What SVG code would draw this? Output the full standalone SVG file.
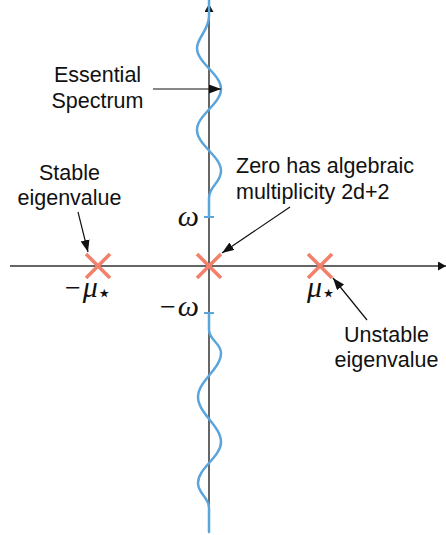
<svg xmlns="http://www.w3.org/2000/svg" width="446" height="535" viewBox="0 0 446 535">
<style>
.lbl{font-family:"Liberation Sans",Arial,sans-serif;font-size:21.5px;fill:#111}
.math{font-family:"Liberation Serif","Times New Roman",serif;font-style:italic;font-size:30px;fill:#111}
.up{font-style:normal;font-size:28px}
.star{font-family:"DejaVu Sans",sans-serif;font-style:normal;font-size:24px}
.axis{stroke:#333;stroke-width:1.5;fill:none}
.wave{stroke:#5AA5DC;stroke-width:2.5;fill:none;stroke-linecap:round}
.tick{stroke:#5AA5DC;stroke-width:2;fill:none}
.cross{stroke:#F2806A;stroke-width:3.5;stroke-linecap:butt}
.arr{stroke:#111;stroke-width:1.2;fill:none}
</style>
<defs>
<marker id="ah" markerUnits="userSpaceOnUse" markerWidth="13" markerHeight="10" refX="12" refY="4.5" orient="auto">
<path d="M0,0 L12,4.5 L0,9 z" fill="#111"/>
</marker>
<marker id="axh" markerUnits="userSpaceOnUse" markerWidth="10" markerHeight="10" refX="8" refY="4.5" orient="auto">
<path d="M0,0 L8,4.5 L0,9 z" fill="#111"/>
</marker>
</defs>
<g id="axes">
<line class="axis" x1="10" y1="266" x2="446" y2="266" marker-end="url(#axh)"/>
<line class="axis" x1="209" y1="532" x2="209" y2="4" marker-end="url(#axh)"/>
</g>
<g id="essential-spectrum">
<path class="wave" d="M209,0 L209,16 C209,30 197,38 197,48 C197,63 221,74 221,89 C221,104 197,115 197,130 C197,145 221,156 221,171 C221,183 209,186 209,198 L209,217"/>
<path class="wave" d="M209,313 L209,330 C209,340 221,343 221,353 C221,369 198,381 198,397 C198,413 221,426 221,442 C221,457 198,468 198,483 C198,494 209,497 209,508 L209,532"/>
<line class="tick" x1="204" y1="217" x2="214" y2="217"/>
<line class="tick" x1="204" y1="313" x2="214" y2="313"/>
</g>
<g id="eigen-neg">
<line class="cross" x1="86" y1="254" x2="110" y2="278"/>
<line class="cross" x1="110" y1="254" x2="86" y2="278"/>
</g>
<g id="eigen-zero">
<line class="cross" x1="197" y1="254" x2="221" y2="278"/>
<line class="cross" x1="221" y1="254" x2="197" y2="278"/>
</g>
<g id="eigen-pos">
<line class="cross" x1="308" y1="254" x2="332" y2="278"/>
<line class="cross" x1="332" y1="254" x2="308" y2="278"/>
</g>
<g id="math-labels">
<text class="math" x="199" y="226" text-anchor="end">ω</text>
<text class="math" x="199" y="316" text-anchor="end"><tspan class="up">−</tspan><tspan dx="2">ω</tspan></text>
<text class="math" x="65" y="297"><tspan class="up">−</tspan><tspan dx="2">μ</tspan><tspan class="star" dx="-1" dy="4">⋆</tspan></text>
<text class="math" x="307" y="297">μ<tspan class="star" dx="-1" dy="4">⋆</tspan></text>
</g>
<g id="label-essential">
<text class="lbl" x="97.5" y="82" text-anchor="middle">Essential</text>
<text class="lbl" x="97.5" y="108" text-anchor="middle">Spectrum</text>
</g>
<g id="label-stable">
<text class="lbl" x="69.5" y="180" text-anchor="middle">Stable</text>
<text class="lbl" x="69.5" y="205" text-anchor="middle">eigenvalue</text>
</g>
<g id="label-zero">
<text class="lbl" x="236" y="173">Zero has algebraic</text>
<text class="lbl" x="236" y="199">multiplicity 2d+2</text>
</g>
<g id="label-unstable">
<text class="lbl" x="386.5" y="342" text-anchor="middle">Unstable</text>
<text class="lbl" x="386.5" y="367" text-anchor="middle">eigenvalue</text>
</g>
<g id="connectors">
<line class="arr" x1="153" y1="89" x2="221" y2="89" marker-end="url(#ah)"/>
<line class="arr" x1="78" y1="212" x2="88" y2="252" marker-end="url(#ah)"/>
<line class="arr" x1="290" y1="207" x2="222" y2="253" marker-end="url(#ah)"/>
<line class="arr" x1="367" y1="320" x2="333" y2="278" marker-end="url(#ah)"/>
</g>
</svg>
